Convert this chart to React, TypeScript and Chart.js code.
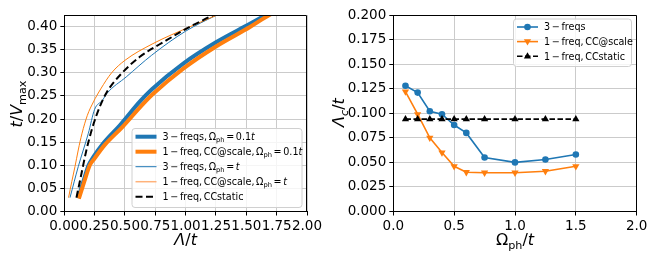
import React, { useEffect, useRef } from "react";
import { Chart, registerables } from "chart.js";

Chart.register(...registerables);

const FONT = "'DejaVu Sans', sans-serif";
const BLUE = "#1f77b4";
const ORANGE = "#ff7f0e";
const GRID = "#cbcbcb";

// ---------- left panel: t/Vmax vs Λ/t ----------
const leftXTicks = [0, 0.25, 0.5, 0.75, 1, 1.25, 1.5, 1.75, 2];
const leftYTicks = [0, 0.05, 0.1, 0.15, 0.2, 0.25, 0.3, 0.35, 0.4];
const leftYMax = 0.425;

const freq3SlowX = [0.115, 0.157, 0.2, 0.24, 0.32, 0.46, 0.62, 0.72, 0.98, 1.25, 1.53, 1.66, 1.7];
const freq3SlowY = [0.029, 0.065, 0.1, 0.118, 0.147, 0.187, 0.237, 0.264, 0.32, 0.366, 0.406, 0.425, 0.431];
const freq1SlowX = [0.12, 0.165, 0.21, 0.25, 0.33, 0.48, 0.64, 0.73, 0.98, 1.25, 1.53, 1.69, 1.73];
const freq1SlowY = [0.028, 0.065, 0.1, 0.115, 0.143, 0.183, 0.23, 0.254, 0.309, 0.357, 0.399, 0.425, 0.43];
const freq3FastX = [0.047, 0.115, 0.198, 0.25, 0.316, 0.35, 0.51, 0.72, 1.0, 1.25, 1.3];
const freq3FastY = [0.03, 0.097, 0.169, 0.221, 0.241, 0.255, 0.291, 0.338, 0.39, 0.424, 0.43];
const freq1FastX = [0.035, 0.062, 0.088, 0.115, 0.145, 0.19, 0.24, 0.3, 0.39, 0.5, 0.73, 1.03, 1.25, 1.3];
const freq1FastY = [0.03, 0.065, 0.097, 0.133, 0.168, 0.208, 0.237, 0.265, 0.3, 0.327, 0.363, 0.399, 0.424, 0.43];
const staticX = [0.1, 0.14, 0.18, 0.23, 0.29, 0.35, 0.47, 0.62, 0.84, 1.03, 1.22, 1.26];
const staticY = [0.03, 0.08, 0.13, 0.18, 0.225, 0.258, 0.298, 0.334, 0.37, 0.399, 0.424, 0.43];

// ---------- right panel: Λc/t vs Ωph/t ----------
const rightXTicks = [0, 0.5, 1, 1.5, 2];
const rightYTicks = [0, 0.025, 0.05, 0.075, 0.1, 0.125, 0.15, 0.175, 0.2];
const omegaPh = [0.1, 0.2, 0.3, 0.4, 0.5, 0.6, 0.75, 1.0, 1.25, 1.5];
const lambda3Freqs = [0.128, 0.121, 0.102, 0.099, 0.088, 0.08, 0.055, 0.05, 0.053, 0.058];
const lambda1Scale = [0.122, 0.099, 0.075, 0.06, 0.046, 0.04, 0.0395, 0.0395, 0.041, 0.046];
const lambda1Static = [0.094, 0.094, 0.094, 0.094, 0.094, 0.094, 0.094, 0.094, 0.094, 0.094];

// ---------- rich text ----------
type Seg = { t?: string; it?: boolean; sub?: boolean; g?: number };
const G: Seg = { g: 0.17 };

const leftLegendLabels: Seg[][] = [
  [{ t: "3" }, G, { t: "−" }, G, { t: "freqs," }, G, { t: "Ω" }, { t: "ph", sub: true }, G, { t: "=" }, G, { t: "0.1" }, { t: "t", it: true }],
  [{ t: "1" }, G, { t: "−" }, G, { t: "freq," }, G, { t: "CC@scale," }, G, { t: "Ω" }, { t: "ph", sub: true }, G, { t: "=" }, G, { t: "0.1" }, { t: "t", it: true }],
  [{ t: "3" }, G, { t: "−" }, G, { t: "freqs," }, G, { t: "Ω" }, { t: "ph", sub: true }, G, { t: "=" }, G, { t: "t", it: true }],
  [{ t: "1" }, G, { t: "−" }, G, { t: "freq," }, G, { t: "CC@scale," }, G, { t: "Ω" }, { t: "ph", sub: true }, G, { t: "=" }, G, { t: "t", it: true }],
  [{ t: "1" }, G, { t: "−" }, G, { t: "freq," }, G, { t: "CCstatic" }],
];
const rightLegendLabels: Seg[][] = [
  [{ t: "3" }, G, { t: "−" }, G, { t: "freqs" }],
  [{ t: "1" }, G, { t: "−" }, G, { t: "freq," }, G, { t: "CC@scale" }],
  [{ t: "1" }, G, { t: "−" }, G, { t: "freq," }, G, { t: "CCstatic" }],
];

const leftYTitle: Seg[] = [{ t: "t", it: true }, { t: "/" }, { t: "V", it: true }, { t: "max", sub: true }];
const leftXTitle: Seg[] = [{ t: "Λ", it: true }, { t: "/" }, { t: "t", it: true }];
const rightYTitle: Seg[] = [{ t: "Λ", it: true }, { t: "c", it: true, sub: true }, { t: "/" }, { t: "t", it: true }];
const rightXTitle: Seg[] = [{ t: "Ω" }, { t: "ph", sub: true }, { t: "/" }, { t: "t", it: true }];

function segFont(s: Seg, size: number) {
  return `${s.it ? "italic " : ""}${s.sub ? size * 0.7 : size}px ${FONT}`;
}
function richWidth(ctx: CanvasRenderingContext2D, segs: Seg[], size: number) {
  let w = 0;
  for (const s of segs) {
    if (s.g) w += s.g * size;
    else {
      ctx.font = segFont(s, size);
      w += ctx.measureText(s.t || "").width;
    }
  }
  return w;
}
function drawRich(ctx: CanvasRenderingContext2D, segs: Seg[], x: number, y: number, size: number, align: "left" | "center") {
  const w = richWidth(ctx, segs, size);
  let cx = align === "center" ? x - w / 2 : x;
  ctx.textAlign = "left";
  ctx.textBaseline = "alphabetic";
  for (const s of segs) {
    if (s.g) {
      cx += s.g * size;
      continue;
    }
    ctx.font = segFont(s, size);
    ctx.fillText(s.t || "", cx, y + (s.sub ? size * 0.24 : 0));
    cx += ctx.measureText(s.t || "").width;
  }
}

type Entry = { label: Seg[]; color: string; width: number; dash?: number[]; marker?: "circle" | "up" | "down" };

function drawMarker(ctx: CanvasRenderingContext2D, kind: string, x: number, y: number, color: string) {
  ctx.save();
  ctx.fillStyle = color;
  ctx.beginPath();
  if (kind === "circle") ctx.arc(x, y, 3.3, 0, Math.PI * 2);
  else if (kind === "up") {
    ctx.moveTo(x, y - 4);
    ctx.lineTo(x + 3.6, y + 2.4);
    ctx.lineTo(x - 3.6, y + 2.4);
  } else {
    ctx.moveTo(x, y + 4);
    ctx.lineTo(x + 3.6, y - 2.4);
    ctx.lineTo(x - 3.6, y - 2.4);
  }
  ctx.closePath();
  ctx.fill();
  ctx.restore();
}

function roundRectPath(ctx: CanvasRenderingContext2D, x: number, y: number, w: number, h: number, r: number) {
  ctx.beginPath();
  ctx.moveTo(x + r, y);
  ctx.lineTo(x + w - r, y);
  ctx.arcTo(x + w, y, x + w, y + r, r);
  ctx.lineTo(x + w, y + h - r);
  ctx.arcTo(x + w, y + h, x + w - r, y + h, r);
  ctx.lineTo(x + r, y + h);
  ctx.arcTo(x, y + h, x, y + h - r, r);
  ctx.lineTo(x, y + r);
  ctx.arcTo(x, y, x + r, y, r);
  ctx.closePath();
}

type Box = { x: number; y: number; w: number; h: number; row0: number; dy: number };
const LEG_FONT = 9.6;

function drawLegend(ctx: CanvasRenderingContext2D, box: Box, entries: Entry[]) {
  ctx.save();
  roundRectPath(ctx, box.x + 0.5, box.y + 0.5, box.w, box.h, 3);
  ctx.fillStyle = "rgba(255,255,255,0.8)";
  ctx.fill();
  ctx.strokeStyle = "#d0d0d0";
  ctx.lineWidth = 1;
  ctx.stroke();
  entries.forEach((e, i) => {
    const cy = box.row0 + i * box.dy;
    ctx.beginPath();
    ctx.setLineDash(e.dash || []);
    ctx.lineWidth = e.width;
    ctx.strokeStyle = e.color;
    ctx.moveTo(box.x + 4, cy);
    ctx.lineTo(box.x + 25, cy);
    ctx.stroke();
    ctx.setLineDash([]);
    if (e.marker) drawMarker(ctx, e.marker, box.x + 14.5, cy, e.color);
    ctx.fillStyle = "#000";
    drawRich(ctx, e.label, box.x + 31, cy + LEG_FONT * 0.36, LEG_FONT, "left");
  });
  ctx.restore();
}

type Decor = {
  legendBox: Box;
  entries: Entry[];
  yTitle: Seg[];
  yTitleX: number;
  yTitleY: number;
  xTitle: Seg[];
  xTitleY: number;
};

function decorPlugin(d: Decor) {
  return {
    id: "decor",
    afterDraw(chart: any) {
      const ctx: CanvasRenderingContext2D = chart.ctx;
      const a = chart.chartArea;
      ctx.save();
      ctx.strokeStyle = "#000";
      ctx.lineWidth = 1;
      ctx.beginPath();
      const top = Math.round(a.top) + 0.5;
      const right = Math.round(a.right) - 0.5;
      ctx.moveTo(Math.round(a.left), top);
      ctx.lineTo(right, top);
      ctx.lineTo(right, Math.round(a.bottom));
      ctx.stroke();
      drawLegend(ctx, d.legendBox, d.entries);
      ctx.fillStyle = "#000";
      drawRich(ctx, d.xTitle, (a.left + a.right) / 2, d.xTitleY, 16, "center");
      ctx.translate(d.yTitleX, d.yTitleY);
      ctx.rotate(-Math.PI / 2);
      drawRich(ctx, d.yTitle, 0, 0, 16, "center");
      ctx.restore();
    },
  };
}

function pts(xs: number[], ys: number[]) {
  return xs.map((x, i) => ({ x, y: ys[i] }));
}

function axis(min: number, max: number, ticks: number[], digits: number, fit: (s: any) => void) {
  return {
    type: "linear",
    min,
    max,
    afterBuildTicks: (s: any) => {
      s.ticks = ticks.map((v) => ({ value: v }));
    },
    afterFit: fit,
    ticks: {
      autoSkip: false,
      maxRotation: 0,
      minRotation: 0,
      color: "#000",
      padding: 3,
      font: { family: FONT, size: 13.5 },
      callback: (v: any) => Number(v).toFixed(digits),
    },
    grid: { color: GRID, lineWidth: 1, drawTicks: true, tickLength: 4, tickColor: "#000", tickWidth: 1 },
    border: { display: true, color: "#000", width: 1 },
  };
}

function lineDs(data: any[], color: string, width: number, order: number, dash: number[] = []) {
  return {
    data,
    borderColor: color,
    backgroundColor: color,
    borderWidth: width,
    borderDash: dash,
    pointRadius: 0,
    cubicInterpolationMode: "monotone",
    clip: 0,
    order,
    borderCapStyle: "butt",
    borderJoinStyle: "round",
  };
}

function leftConfig(): any {
  return {
    type: "line",
    data: {
      datasets: [
        lineDs(pts(freq3SlowX, freq3SlowY), BLUE, 4, 5),
        lineDs(pts(freq1SlowX, freq1SlowY), ORANGE, 4, 4),
        lineDs(pts(freq3FastX, freq3FastY), BLUE, 1, 3),
        lineDs(pts(freq1FastX, freq1FastY), ORANGE, 1, 2),
        lineDs(pts(staticX, staticY), "#000", 2, 1, [7, 3.5]),
      ],
    },
    options: {
      animation: false,
      responsive: false,
      devicePixelRatio: 1,
      events: [],
      layout: { padding: { left: 0, right: 21, top: 15, bottom: 0 } },
      plugins: { legend: { display: false }, tooltip: { enabled: false } },
      scales: {
        x: axis(0, 2, leftXTicks, 2, (s: any) => {
          s.height = 51.5;
        }),
        y: axis(0, leftYMax, leftYTicks, 2, (s: any) => {
          s.width = 64.3;
        }),
      },
    },
    plugins: [
      decorPlugin({
        legendBox: { x: 131.5, y: 128, w: 170, h: 79, row0: 136.7, dy: 15 },
        entries: [
          { label: leftLegendLabels[0], color: BLUE, width: 4 },
          { label: leftLegendLabels[1], color: ORANGE, width: 4 },
          { label: leftLegendLabels[2], color: BLUE, width: 1 },
          { label: leftLegendLabels[3], color: "#ffb27a", width: 1.5 },
          { label: leftLegendLabels[4], color: "#000", width: 2, dash: [7, 3.5] },
        ],
        yTitle: leftYTitle,
        yTitleX: 22,
        yTitleY: 104,
        xTitle: leftXTitle,
        xTitleY: 245,
      }),
    ],
  };
}

function rightConfig(): any {
  const mk = (ys: number[], color: string, order: number, style: string, rot: number, radius: number, dash: number[] = []) => ({
    data: pts(omegaPh, ys),
    borderColor: color,
    backgroundColor: color,
    borderWidth: 1.6,
    borderDash: dash,
    pointStyle: style,
    pointRotation: rot,
    pointRadius: radius,
    pointBorderWidth: 0,
    pointBackgroundColor: color,
    tension: 0,
    order,
  });
  return {
    type: "line",
    data: {
      datasets: [
        mk(lambda3Freqs, BLUE, 3, "circle", 0, 3.3),
        mk(lambda1Scale, ORANGE, 2, "triangle", 180, 4.2),
        mk(lambda1Static, "#000", 1, "triangle", 0, 4.2, [5.5, 2.5]),
      ],
    },
    options: {
      animation: false,
      responsive: false,
      devicePixelRatio: 1,
      events: [],
      layout: { padding: { left: 0, right: 19.3, top: 15, bottom: 0 } },
      plugins: { legend: { display: false }, tooltip: { enabled: false } },
      scales: {
        x: axis(0, 2, rightXTicks, 1, (s: any) => {
          s.height = 51.5;
        }),
        y: axis(0, 0.2, rightYTicks, 3, (s: any) => {
          s.width = 65.3;
        }),
      },
    },
    plugins: [
      decorPlugin({
        legendBox: { x: 185, y: 18.5, w: 118, h: 47.5, row0: 27, dy: 14.6 },
        entries: [
          { label: rightLegendLabels[0], color: BLUE, width: 1.6, marker: "circle" },
          { label: rightLegendLabels[1], color: ORANGE, width: 1.6, marker: "down" },
          { label: rightLegendLabels[2], color: "#000", width: 1.6, dash: [5.5, 2.5], marker: "up" },
        ],
        yTitle: rightYTitle,
        yTitleX: 16,
        yTitleY: 112.5,
        xTitle: rightXTitle,
        xTitleY: 245,
      }),
    ],
  };
}

export default function App() {
  const leftRef = useRef<HTMLCanvasElement>(null);
  const rightRef = useRef<HTMLCanvasElement>(null);
  useEffect(() => {
    const c1 = new Chart(leftRef.current as HTMLCanvasElement, leftConfig());
    const c2 = new Chart(rightRef.current as HTMLCanvasElement, rightConfig());
    return () => {
      c1.destroy();
      c2.destroy();
    };
  }, []);
  return (
    <div style={{ position: "fixed", left: 0, top: 0, width: 656, height: 263, background: "#fff" }}>
      <canvas ref={leftRef} width={328} height={263} style={{ position: "absolute", left: 0, top: 0, width: 328, height: 263 }} />
      <canvas ref={rightRef} width={328} height={263} style={{ position: "absolute", left: 328, top: 0, width: 328, height: 263 }} />
    </div>
  );
}
